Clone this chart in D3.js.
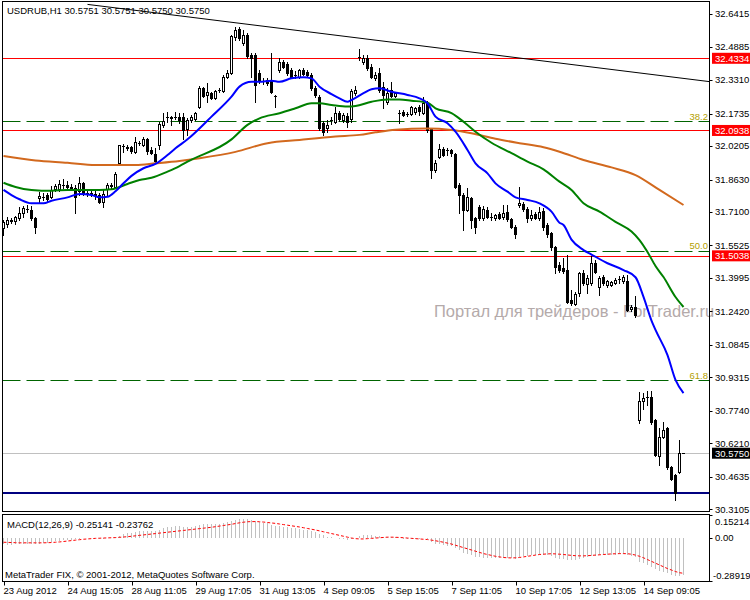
<!DOCTYPE html>
<html><head><meta charset="utf-8">
<script src="https://cdnjs.cloudflare.com/ajax/libs/d3/7.8.5/d3.min.js"></script>
<style>body{margin:0;background:#fff}svg{display:block}text{font-family:"Liberation Sans",Arial,sans-serif;font-size:9.5px}</style>
</head><body><svg id="c" width="750" height="600"></svg>
<script>
// ---------------- DATA ----------------
const symbolTitle = "USDRUB,H1  30.5751 30.5751 30.5750 30.5750";
const macdTitle = "MACD(12,26,9) -0.25141 -0.23762";
const copyright = "MetaTrader FIX, \u00A9 2001-2012, MetaQuotes Software Corp.";
const watermark = "Портал для трейдеров - ForTrader.ru";

const opens = [31.635,31.654,31.668,31.668,31.682,31.706,31.725,31.720,31.682,31.776,
31.781,31.790,31.781,31.818,31.818,31.837,31.837,31.828,31.823,31.809,
31.847,31.800,31.800,31.795,31.790,31.757,31.818,31.837,31.828,31.941,
32.021,32.016,32.016,31.993,32.035,32.025,32.054,32.002,31.983,32.025,
32.120,32.157,32.157,32.157,32.157,32.157,32.101,32.143,32.148,32.204,
32.294,32.261,32.270,32.247,32.284,32.280,32.345,32.364,32.534,32.571,
32.506,32.543,32.449,32.449,32.364,32.327,32.331,32.331,32.256,32.378,
32.416,32.407,32.378,32.355,32.345,32.378,32.369,32.355,32.294,32.251,
32.129,32.106,32.143,32.134,32.176,32.143,32.162,32.148,32.270,32.440,
32.416,32.435,32.393,32.341,32.364,32.298,32.228,32.284,32.256,32.176,
32.181,32.171,32.171,32.181,32.204,32.176,32.223,32.101,31.908,31.969,
32.007,32.002,32.002,31.983,31.837,31.790,31.720,31.776,31.682,31.734,
31.682,31.720,31.687,31.682,31.701,31.687,31.710,31.678,31.640,31.743,
31.748,31.725,31.682,31.701,31.682,31.715,31.649,31.611,31.545,31.461,
31.447,31.437,31.296,31.277,31.329,31.423,31.371,31.376,31.470,31.357,
31.404,31.367,31.367,31.376,31.395,31.386,31.386,31.254,31.263,30.731,
30.821,30.840,30.840,30.731,30.562,30.651,30.694,30.510,30.473,30.487,30.5751];
const highs = [31.673,31.687,31.682,31.692,31.734,31.739,31.743,31.739,31.687,31.804,
31.800,31.800,31.833,31.842,31.861,31.865,31.856,31.842,31.837,31.875,
31.851,31.818,31.809,31.809,31.800,31.814,31.847,31.847,31.898,32.025,
32.030,32.025,32.021,32.063,32.044,32.063,32.058,32.016,32.011,32.134,
32.176,32.181,32.162,32.181,32.176,32.176,32.152,32.167,32.181,32.303,
32.298,32.317,32.275,32.284,32.294,32.355,32.378,32.543,32.581,32.581,
32.567,32.553,32.459,32.459,32.378,32.341,32.341,32.459,32.261,32.435,
32.425,32.416,32.388,32.374,32.383,32.388,32.378,32.364,32.303,32.261,
32.138,32.143,32.157,32.204,32.186,32.176,32.176,32.289,32.303,32.477,
32.449,32.449,32.407,32.369,32.388,32.322,32.294,32.322,32.275,32.190,
32.190,32.181,32.209,32.204,32.214,32.251,32.233,32.106,31.955,32.030,
32.016,32.011,32.007,31.988,31.847,31.800,31.823,31.781,31.687,31.743,
31.739,31.734,31.706,31.701,31.710,31.743,31.743,31.682,31.649,31.828,
31.757,31.734,31.720,31.710,31.734,31.729,31.659,31.616,31.550,31.475,
31.494,31.508,31.343,31.334,31.428,31.437,31.414,31.503,31.484,31.409,
31.414,31.390,31.386,31.400,31.409,31.414,31.414,31.273,31.315,30.863,
30.858,30.868,30.868,30.736,30.694,30.722,30.698,30.515,30.477,30.637,30.5751];
const lows = [31.602,31.640,31.659,31.654,31.673,31.687,31.710,31.673,31.611,31.757,
31.767,31.762,31.776,31.809,31.809,31.823,31.818,31.814,31.706,31.790,
31.790,31.786,31.786,31.771,31.753,31.734,31.790,31.823,31.823,31.936,
31.993,32.002,31.988,31.988,32.025,32.021,31.983,31.983,31.946,32.007,
32.110,32.134,32.120,32.148,32.129,32.054,32.073,32.134,32.143,32.200,
32.251,32.228,32.242,32.242,32.275,32.275,32.341,32.360,32.520,32.520,
32.496,32.435,32.345,32.228,32.317,32.313,32.308,32.270,32.204,32.369,
32.388,32.355,32.341,32.341,32.341,32.355,32.350,32.284,32.251,32.096,
32.073,32.087,32.124,32.129,32.138,32.134,32.110,32.134,32.261,32.425,
32.407,32.378,32.341,32.331,32.275,32.200,32.218,32.251,32.251,32.129,
32.162,32.162,32.167,32.171,32.167,32.171,32.087,31.870,31.898,31.964,
31.974,31.978,31.974,31.823,31.706,31.625,31.715,31.635,31.611,31.673,
31.673,31.682,31.673,31.673,31.678,31.678,31.668,31.635,31.588,31.734,
31.715,31.664,31.673,31.678,31.673,31.625,31.592,31.531,31.423,31.428,
31.423,31.282,31.273,31.273,31.315,31.367,31.329,31.367,31.423,31.320,
31.367,31.357,31.362,31.371,31.376,31.376,31.244,31.244,31.216,30.717,
30.783,30.802,30.712,30.562,30.520,30.647,30.501,30.449,30.355,30.482,30.5750];
const closes = [31.664,31.673,31.673,31.687,31.706,31.729,31.724,31.682,31.640,31.786,
31.780,31.771,31.814,31.833,31.842,31.836,31.828,31.823,31.781,31.847,
31.800,31.799,31.795,31.790,31.757,31.795,31.837,31.833,31.889,32.024,
32.020,32.011,31.997,32.040,32.034,32.054,31.997,31.988,31.950,32.124,
32.138,32.156,32.152,32.156,32.143,32.096,32.143,32.157,32.176,32.294,
32.256,32.275,32.247,32.280,32.283,32.345,32.364,32.538,32.567,32.529,
32.543,32.444,32.435,32.308,32.331,32.326,32.317,32.275,32.255,32.416,
32.393,32.364,32.345,32.354,32.378,32.360,32.355,32.294,32.261,32.106,
32.087,32.120,32.142,32.176,32.148,32.167,32.134,32.280,32.284,32.439,
32.435,32.388,32.345,32.355,32.284,32.261,32.270,32.256,32.270,32.175,
32.167,32.170,32.204,32.200,32.186,32.223,32.096,31.908,31.941,32.007,
31.978,32.001,31.988,31.828,31.790,31.720,31.781,31.673,31.640,31.682,
31.725,31.687,31.686,31.696,31.682,31.706,31.678,31.640,31.607,31.753,
31.725,31.682,31.696,31.682,31.710,31.640,31.607,31.545,31.451,31.437,
31.433,31.287,31.282,31.324,31.423,31.376,31.400,31.470,31.428,31.400,
31.376,31.386,31.381,31.390,31.394,31.404,31.249,31.263,31.225,30.821,
30.835,30.839,30.722,30.567,30.651,30.684,30.510,30.454,30.388,30.5751,30.5750];

// moving averages: [bar index, price]
const maFast = [[0,31.814],[2,31.790],[4,31.770],[7,31.751],[10,31.751],[12,31.763],[16,31.779],[19,31.795],[22,31.790],[24,31.779],[26,31.782],[28,31.808],[30,31.845],[32,31.880],[35,31.916],[38,31.936],[41,31.978],[43,32.010],[46,32.052],[52,32.159],[57,32.253],[59,32.300],[62,32.323],[64,32.323],[67,32.328],[69,32.323],[72,32.339],[75,32.344],[77,32.339],[79,32.300],[82,32.265],[84,32.245],[86,32.229],[87,32.237],[90,32.269],[92,32.288],[94,32.292],[97,32.276],[101,32.261],[104,32.245],[106,32.222],[108,32.159],[111,32.128],[113,32.088],[116,32.002],[118,31.939],[121,31.892],[123,31.845],[126,31.806],[128,31.779],[131,31.767],[134,31.751],[137,31.712],[139,31.660],[140,31.649],[142,31.580],[145,31.531],[147,31.510],[151,31.469],[155,31.437],[158,31.403],[160,31.311],[162,31.199],[163,31.155],[166,31.037],[168,30.920],[170,30.858]];
const maMid = [[0,31.848],[3,31.828],[7,31.814],[12,31.810],[16,31.814],[20,31.814],[24,31.814],[27,31.817],[31,31.842],[34,31.861],[37,31.871],[41,31.900],[44,31.926],[46,31.947],[57,32.052],[61,32.120],[64,32.151],[69,32.175],[73,32.198],[77,32.222],[79,32.222],[82,32.214],[86,32.206],[88,32.209],[92,32.229],[96,32.240],[99,32.240],[102,32.234],[106,32.224],[108,32.198],[112,32.175],[115,32.135],[118,32.088],[122,32.036],[127,31.987],[131,31.947],[135,31.911],[139,31.853],[142,31.814],[145,31.751],[149,31.712],[153,31.664],[157,31.618],[159,31.578],[161,31.522],[163,31.456],[165,31.404],[168,31.310],[170,31.263]];
const maSlow = [[0,31.974],[8,31.953],[16,31.942],[23,31.931],[33,31.931],[38,31.939],[44,31.950],[49,31.963],[58,31.993],[66,32.034],[74,32.049],[83,32.065],[89,32.073],[93,32.085],[98,32.097],[106,32.103],[112,32.096],[117,32.081],[123,32.055],[129,32.034],[135,32.015],[139,31.994],[145,31.955],[152,31.920],[158,31.884],[164,31.814],[170,31.743]];

const macdHist = [-0.045,-0.046,-0.046,-0.045,-0.044,-0.042,-0.040,-0.040,-0.042,-0.040,
-0.036,-0.032,-0.028,-0.024,-0.020,-0.017,-0.014,-0.012,-0.010,-0.006,
-0.004,-0.003,-0.003,-0.004,-0.006,-0.006,-0.004,-0.002,0.004,0.015,
0.024,0.030,0.034,0.040,0.044,0.048,0.048,0.047,0.044,0.055,
0.064,0.070,0.074,0.077,0.078,0.074,0.073,0.074,0.076,0.085,
0.090,0.093,0.094,0.095,0.095,0.099,0.103,0.114,0.122,0.126,
0.128,0.125,0.121,0.112,0.106,0.101,0.096,0.088,0.080,0.078,
0.075,0.070,0.066,0.062,0.058,0.055,0.052,0.047,0.041,0.028,
0.016,0.008,0.002,-0.003,-0.008,-0.010,-0.014,-0.010,-0.005,0.010,
0.018,0.020,0.018,0.015,0.010,0.006,0.004,0.002,0.002,-0.004,
-0.008,-0.010,-0.010,-0.008,-0.006,-0.003,-0.010,-0.030,-0.040,-0.045,
-0.050,-0.055,-0.058,-0.070,-0.085,-0.100,-0.108,-0.118,-0.128,-0.132,
-0.135,-0.136,-0.138,-0.138,-0.137,-0.136,-0.136,-0.138,-0.140,-0.128,
-0.122,-0.120,-0.118,-0.116,-0.112,-0.114,-0.118,-0.124,-0.134,-0.140,
-0.142,-0.148,-0.150,-0.148,-0.140,-0.136,-0.132,-0.124,-0.120,-0.118,
-0.116,-0.115,-0.114,-0.112,-0.110,-0.108,-0.116,-0.122,-0.130,-0.160,
-0.172,-0.182,-0.194,-0.210,-0.220,-0.226,-0.236,-0.246,-0.258,-0.256,-0.25141];
const macdSignal = [-0.030,-0.031,-0.032,-0.033,-0.034,-0.034,-0.034,-0.034,-0.034,-0.034,
-0.034,-0.033,-0.032,-0.030,-0.028,-0.025,-0.022,-0.019,-0.016,-0.013,
-0.010,-0.008,-0.006,-0.004,-0.003,-0.002,-0.001,0.000,0.001,0.003,
0.005,0.007,0.010,0.013,0.016,0.019,0.022,0.025,0.028,0.031,
0.034,0.037,0.040,0.043,0.046,0.049,0.052,0.055,0.058,0.061,
0.064,0.067,0.070,0.074,0.078,0.082,0.086,0.090,0.095,0.100,
0.104,0.107,0.108,0.108,0.107,0.105,0.102,0.099,0.096,0.092,
0.088,0.084,0.080,0.076,0.072,0.067,0.062,0.057,0.052,0.046,
0.040,0.034,0.028,0.022,0.016,0.010,0.004,-0.002,-0.006,-0.008,
-0.008,-0.006,-0.004,-0.002,0.000,0.002,0.004,0.004,0.003,0.002,
0.000,-0.002,-0.004,-0.006,-0.008,-0.010,-0.012,-0.016,-0.020,-0.025,
-0.030,-0.036,-0.042,-0.050,-0.058,-0.066,-0.074,-0.082,-0.090,-0.098,
-0.106,-0.112,-0.118,-0.124,-0.128,-0.132,-0.134,-0.135,-0.134,-0.132,
-0.128,-0.124,-0.120,-0.116,-0.112,-0.110,-0.108,-0.107,-0.108,-0.110,
-0.112,-0.115,-0.118,-0.120,-0.121,-0.121,-0.120,-0.118,-0.116,-0.114,
-0.112,-0.110,-0.108,-0.107,-0.106,-0.106,-0.107,-0.110,-0.116,-0.124,
-0.134,-0.146,-0.158,-0.170,-0.182,-0.194,-0.206,-0.216,-0.226,-0.234,-0.23762];

const priceRange = [30.3031, 32.6983];
const priceTicks = [32.6415,32.4885,32.3310,32.1735,32.0205,31.8630,31.7100,31.5525,31.3995,31.2420,31.0845,30.9315,30.7740,30.6210,30.4635,30.3105];
const redLevels = [32.4334, 32.0938, 31.5038];
const fibLevels = [32.137, 31.528, 30.918];
const fibLabels = ["38.2", "50.0", "61.8"];
const bidPrice = 30.5750;
const supportLevel = 30.389;
const trendAnchors = [[21, 32.687], [110, 32.479]];
const macdRange = [-0.28919, 0.15214];
const macdTicks = [0.15214, 0.00, -0.28919];
const macdTickLabels = ["0.15214", "0.00", "-0.28919"];
const dateBars = [0,16,32,48,64,80,96,112,128,144,160];
const dateLabels = ["23 Aug 2012","24 Aug 15:05","28 Aug 11:05","29 Aug 17:05","31 Aug 13:05","4 Sep 09:05","5 Sep 15:05","7 Sep 11:05","10 Sep 17:05","12 Sep 13:05","14 Sep 09:05"];

// ---------------- LAYOUT ----------------
const svg = d3.select('#c');
const L = 2.5, R = 709.5, mTop = 1.5, mBot = 511.5, dTop = 514.5, dBot = 581.5;
const n = opens.length;
const x = d3.scaleLinear().domain([0, n - 1]).range([3.5, 683.5]);
const y = d3.scaleLinear().domain(priceRange).range([511, 2]);
const ym = d3.scaleLinear().domain(macdRange).range([581, 515]);

svg.append('rect').attr('width', 750).attr('height', 600).attr('fill', '#fff');
const defs = svg.append('defs');
defs.append('clipPath').attr('id', 'clipMain').append('rect')
  .attr('x', L).attr('y', mTop).attr('width', R - L).attr('height', mBot - mTop);
defs.append('clipPath').attr('id', 'clipMacd').append('rect')
  .attr('x', L).attr('y', dTop).attr('width', R - L).attr('height', dBot - dTop);

// watermark (background layer)
svg.append('text').attr('x', 434).attr('y', 311).attr('dy', '0.35em').style('font-size', '16.5px')
  .attr('fill', '#b4aaaa').text(watermark);

const main = svg.append('g').attr('clip-path', 'url(#clipMain)');
const crisp = v => Math.round(v) + 0.5;

// fib dashed levels
main.selectAll('line.fib').data(fibLevels).join('line')
  .attr('x1', L).attr('x2', R).attr('y1', d => crisp(y(d))).attr('y2', d => crisp(y(d)))
  .attr('stroke', '#006400').attr('stroke-dasharray', '18,6');
// bid line
main.append('line').attr('x1', L).attr('x2', R).attr('y1', crisp(y(bidPrice))).attr('y2', crisp(y(bidPrice)))
  .attr('stroke', '#c0c0c0');
// red levels
main.selectAll('line.red').data(redLevels).join('line')
  .attr('x1', L).attr('x2', R).attr('y1', d => crisp(y(d))).attr('y2', d => crisp(y(d)))
  .attr('stroke', '#ff0000');
// support (navy)
main.append('line').attr('x1', L).attr('x2', R).attr('y1', Math.round(y(supportLevel))).attr('y2', Math.round(y(supportLevel)))
  .attr('stroke', '#000080').attr('stroke-width', 2);
// trend line (ray to the right)
{
  const [a, b] = trendAnchors;
  const slope = (b[1] - a[1]) / (b[0] - a[0]);
  const endBar = x.invert(R);
  main.append('line').attr('x1', x(a[0])).attr('y1', y(a[1]))
    .attr('x2', R).attr('y2', y(a[1] + slope * (endBar - a[0])))
    .attr('stroke', '#000').attr('stroke-width', 1);
}

// candles
const bars = d3.range(n).map(i => ({i, o: opens[i], h: highs[i], l: lows[i], c: closes[i]}));
const cg = main.append('g');
bars.forEach(d => {
  const cx = x(d.i);
  cg.append('line').attr('x1', cx).attr('x2', cx).attr('y1', Math.round(y(d.h))).attr('y2', Math.round(y(d.l)) + 1)
    .attr('stroke', '#000');
  const yo = Math.round(y(d.o)), yc = Math.round(y(d.c));
  if (Math.abs(yo - yc) < 1) {
    cg.append('line').attr('x1', cx - 1.5).attr('x2', cx + 1.5).attr('y1', yo + 0.5).attr('y2', yo + 0.5).attr('stroke', '#000');
  } else if (d.c > d.o) {
    cg.append('rect').attr('x', cx - 1).attr('width', 2).attr('y', yc + 0.5).attr('height', yo - yc)
      .attr('fill', '#fff').attr('stroke', '#000');
  } else {
    cg.append('rect').attr('x', cx - 1.5).attr('width', 3).attr('y', yo).attr('height', yc - yo + 1)
      .attr('fill', '#000');
  }
});

// moving averages
const maLine = d3.line().x(d => x(d[0])).y(d => y(d[1])).curve(d3.curveMonotoneX);
[[maSlow, '#d2691e'], [maMid, '#008000'], [maFast, '#0000ff']].forEach(([data, col]) => {
  main.append('path').attr('d', maLine(data)).attr('fill', 'none').attr('stroke', col).attr('stroke-width', 2);
});

// MACD
const mg = svg.append('g').attr('clip-path', 'url(#clipMacd)');
mg.selectAll('line.h').data(macdHist).join('line')
  .attr('x1', (d, i) => x(i)).attr('x2', (d, i) => x(i))
  .attr('y1', Math.round(ym(0))).attr('y2', d => Math.round(ym(d)))
  .attr('stroke', '#c0c0c0');
mg.append('path').attr('d', d3.line().x((d, i) => x(i)).y(d => ym(d))(macdSignal))
  .attr('fill', 'none').attr('stroke', '#ff0000').attr('stroke-dasharray', '3,2');

// frames
svg.append('rect').attr('x', L).attr('y', mTop).attr('width', R - L).attr('height', mBot - mTop)
  .attr('fill', 'none').attr('stroke', '#000');
svg.append('rect').attr('x', L).attr('y', dTop).attr('width', R - L).attr('height', dBot - dTop)
  .attr('fill', 'none').attr('stroke', '#000');

// price axis
const ax = svg.append('g');
priceTicks.forEach(v => {
  const yy = crisp(y(v));
  ax.append('line').attr('x1', R).attr('x2', R + 3).attr('y1', yy).attr('y2', yy).attr('stroke', '#000');
  ax.append('text').attr('x', 715).attr('y', y(v)).attr('dy', '0.35em').text(v.toFixed(4));
});
redLevels.forEach(v => {
  const yy = y(v);
  ax.append('rect').attr('x', 712).attr('y', yy - 5.5).attr('width', 38).attr('height', 11).attr('fill', '#ff0000');
  ax.append('text').attr('x', 715).attr('y', yy).attr('dy', '0.35em').attr('fill', '#fff').text(v.toFixed(4));
});
{
  const yy = y(bidPrice);
  ax.append('rect').attr('x', 712).attr('y', yy - 5.5).attr('width', 38).attr('height', 11).attr('fill', '#000');
  ax.append('text').attr('x', 715).attr('y', yy).attr('dy', '0.35em').attr('fill', '#fff').text(bidPrice.toFixed(4));
}
fibLevels.forEach((v, k) => {
  svg.append('text').attr('x', 708).attr('y', y(v) - 5).attr('dy', '0.35em').attr('text-anchor', 'end')
    .attr('fill', '#b4a000').text(fibLabels[k]);
});

// macd axis
macdTicks.forEach((v, k) => {
  const yy = ym(v);
  const ty = k === 0 ? 522 : (k === 2 ? 576 : yy);
  ax.append('line').attr('x1', R).attr('x2', R + 3).attr('y1', crisp(yy)).attr('y2', crisp(yy)).attr('stroke', '#000');
  ax.append('text').attr('x', v < 0 ? 713 : 715).attr('y', ty).attr('dy', '0.35em').text(macdTickLabels[k]);
});

// date axis
dateBars.forEach((b, k) => {
  const xx = Math.round(x(b)) + 0.5;
  svg.append('line').attr('x1', xx).attr('x2', xx).attr('y1', dBot).attr('y2', dBot + 4).attr('stroke', '#000');
  svg.append('text').attr('x', xx - 1).attr('y', 591).attr('dy', '0.35em').text(dateLabels[k]);
});

// titles
svg.append('text').attr('x', 7).attr('y', 11).attr('dy', '0.35em').text(symbolTitle);
svg.append('text').attr('x', 7).attr('y', 524.5).attr('dy', '0.35em').text(macdTitle);
svg.append('text').attr('x', 5).attr('y', 575).attr('dy', '0.35em').text(copyright);
</script></body></html>
